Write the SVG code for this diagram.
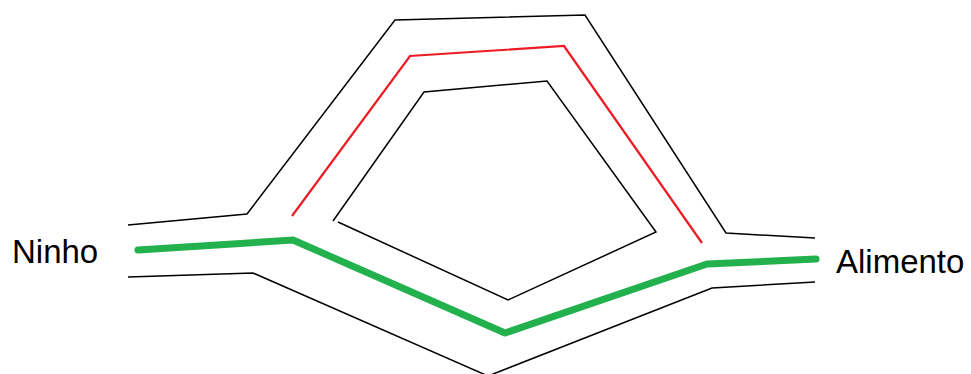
<svg xmlns="http://www.w3.org/2000/svg" width="971" height="374" viewBox="0 0 971 374">
<style>
.b{fill:none;stroke:#000;stroke-width:1.5;stroke-linejoin:miter}
.r{fill:none;stroke:#ed1c24;stroke-width:2.2}
.g{fill:none;stroke:#22b14c;stroke-width:7;stroke-linejoin:round;stroke-linecap:round}
.t{font-family:"Liberation Sans",Arial,sans-serif;font-size:33px;fill:#000}
</style>
<rect width="971" height="374" fill="#fff"/>
<g id="paths">
<polyline id="outer-top" class="b" points="128,225 247,214 395,20 585,15 726,233 815,238"/>
<polyline id="outer-bottom" class="b" points="128,277 253,273 488,376 712,288 815,282"/>
<polyline id="inner" class="b" points="338,222 508,300 656,232 547,81 424,92 333,221"/>
<polyline id="red-path" class="r" points="292,216 410,56 564,46 702,243"/>
<polyline id="green-path" class="g" points="138,250 293,240 505,333 707,264 816,259"/>
</g>
<g id="ninho"><text class="t" x="12" y="263">Ninho</text></g>
<g id="alimento"><text class="t" x="836" y="273">Alimento</text></g>
</svg>
